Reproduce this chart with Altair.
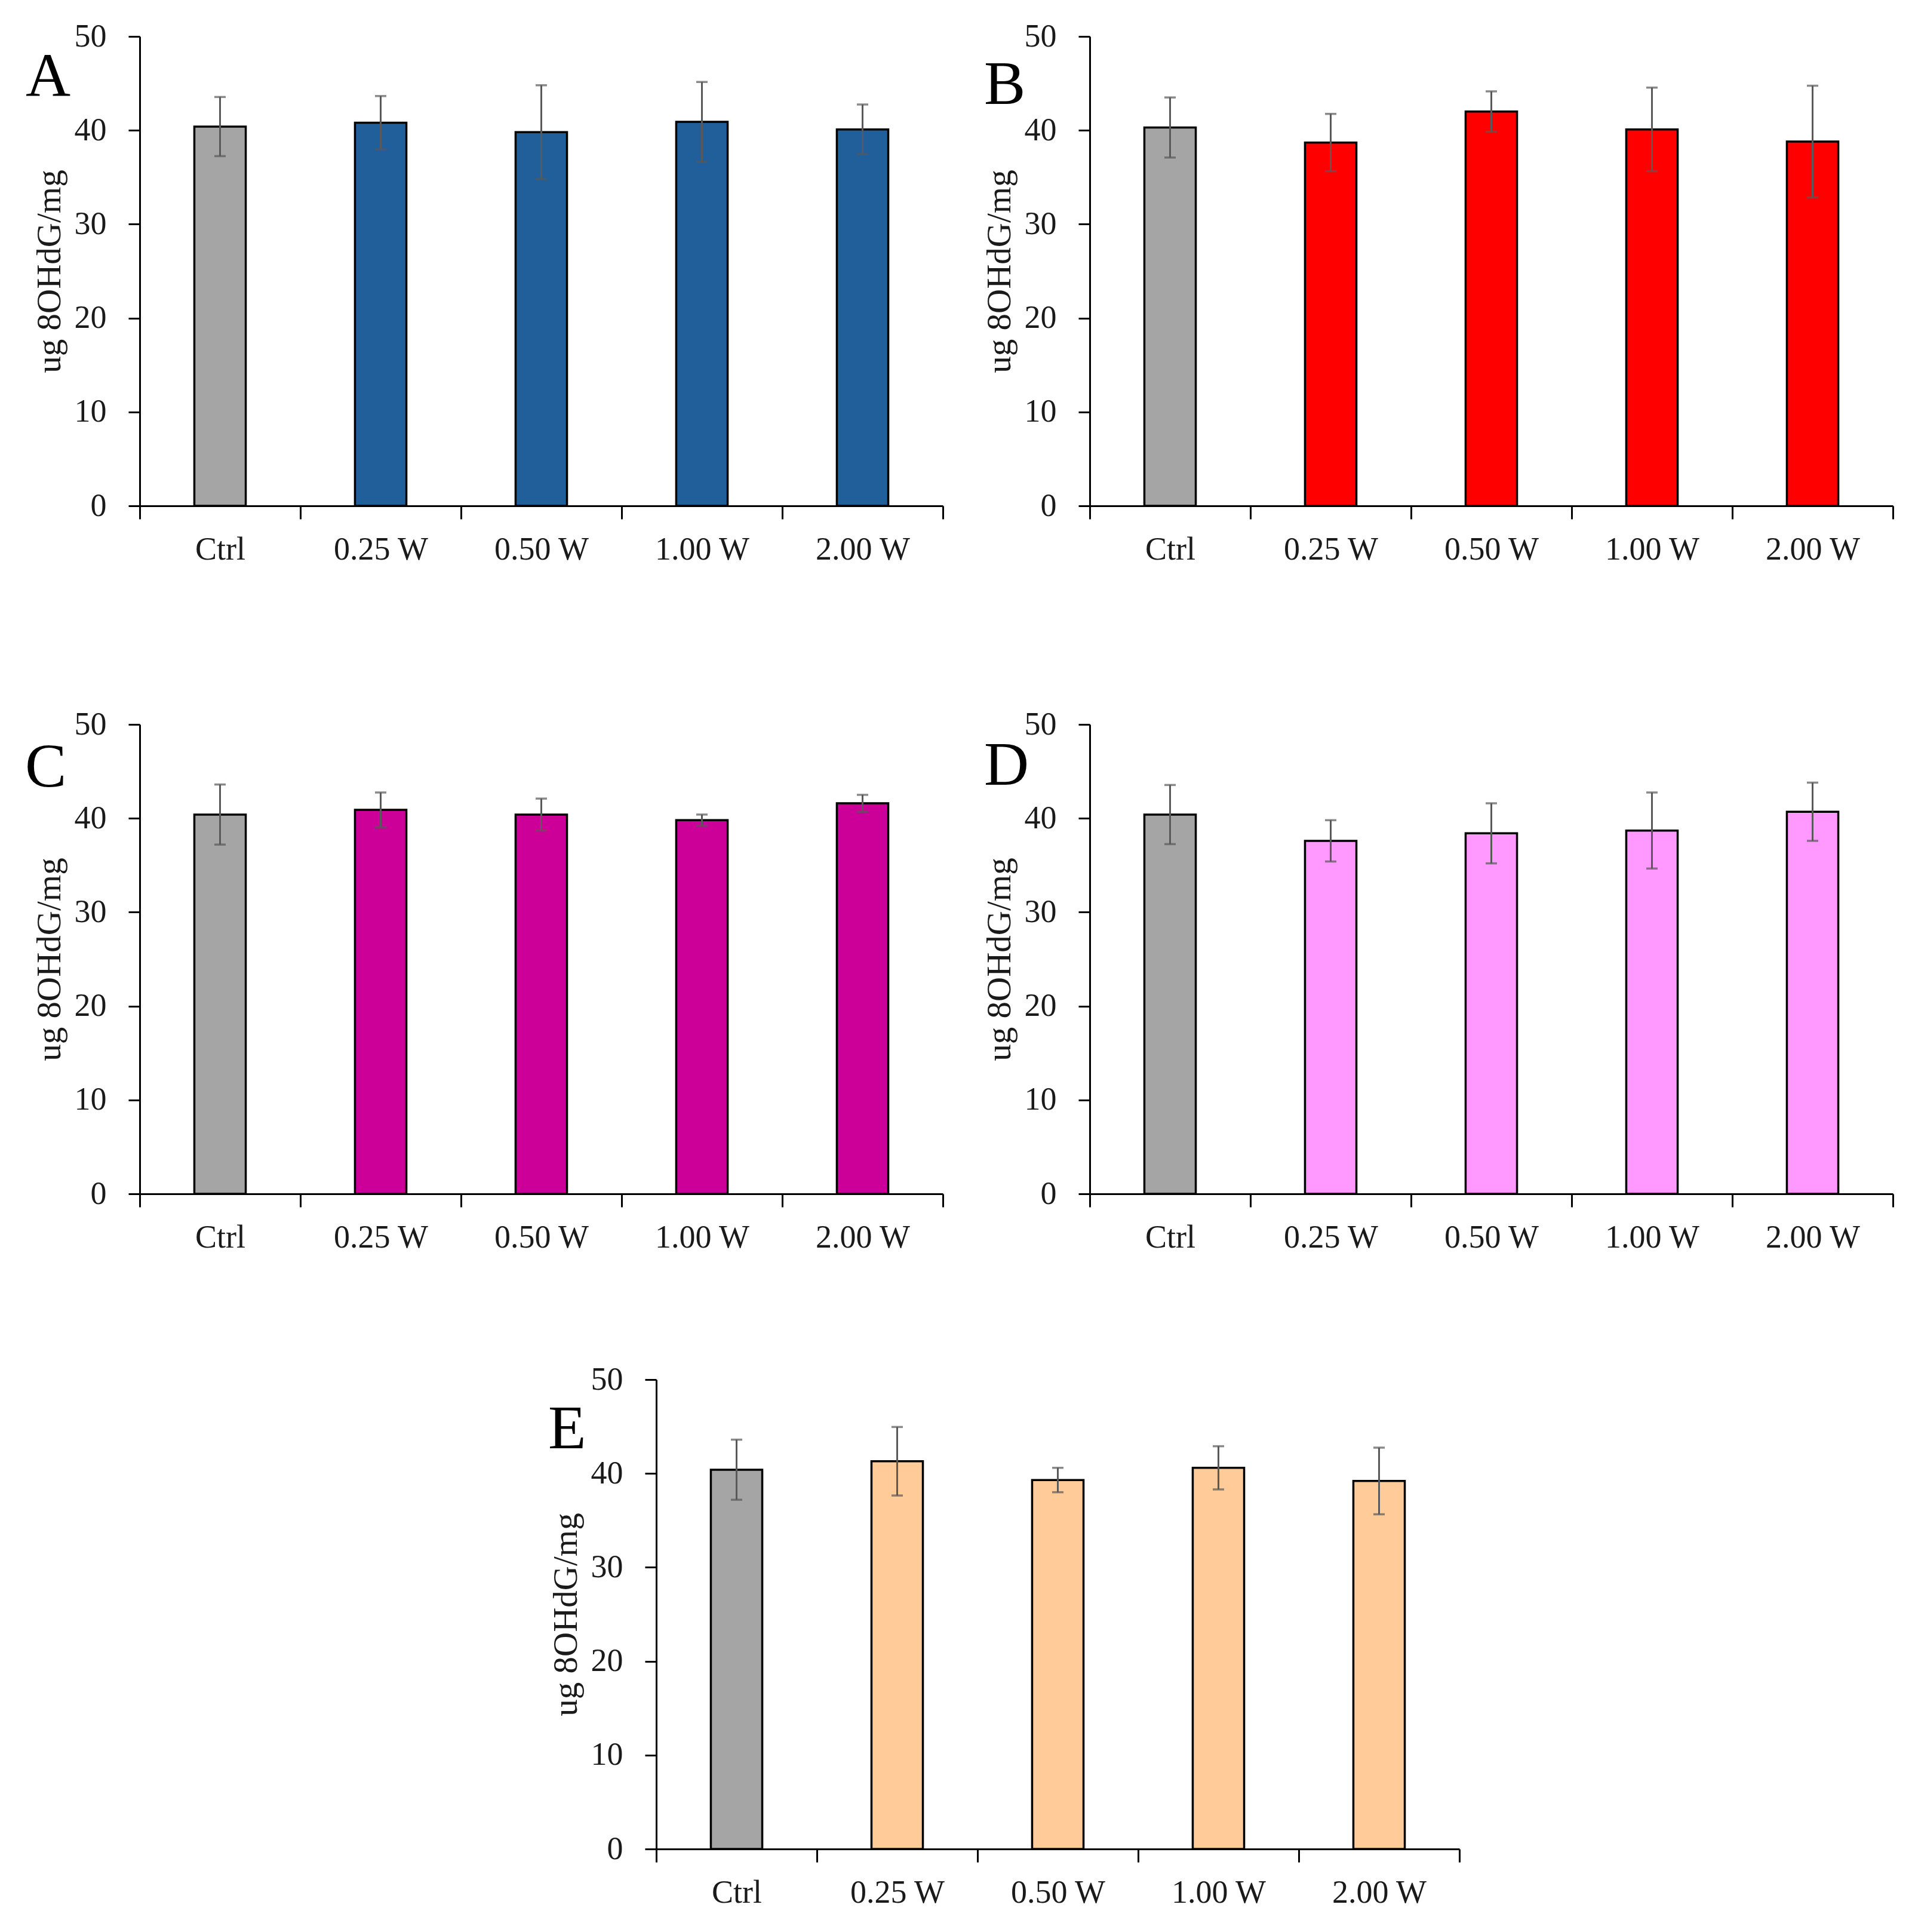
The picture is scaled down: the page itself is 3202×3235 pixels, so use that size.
#!/usr/bin/env python3
"""8OHdG levels per exposure power, five panels A-E
"""
import altair as alt
import pandas as pd

CATEGORIES = ['Ctrl', '0.25 W', '0.50 W', '1.00 W', '2.00 W']
GROUPS = ['ctrl', 'treat', 'treat', 'treat', 'treat']
LETTERS = ['A', 'B', 'C', 'D', 'E']

MEANS_A = [40.4, 40.8, 39.8, 40.9, 40.1]
ERRS_A = [3.15, 2.85, 5.0, 4.25, 2.65]
MEANS_B = [40.3, 38.7, 42.0, 40.1, 38.8]
ERRS_B = [3.2, 3.05, 2.15, 4.45, 5.95]
MEANS_C = [40.4, 40.9, 40.4, 39.8, 41.6]
ERRS_C = [3.2, 1.85, 1.7, 0.6, 0.9]
MEANS_D = [40.4, 37.6, 38.4, 38.7, 40.7]
ERRS_D = [3.15, 2.2, 3.2, 4.05, 3.1]
MEANS_E = [40.4, 41.3, 39.3, 40.6, 39.2]
ERRS_E = [3.2, 3.65, 1.3, 2.3, 3.55]

GRAY = '#A5A5A5'
PANEL_COLORS = ['#215F9A', '#FF0000', '#CC0099', '#FF99FF', '#FFCC99']
ERR_COLOR = '#595959'
FONT = 'Liberation Serif'
Y_TITLE = 'ug 8OHdG/mg'

W, H = 1345, 786
# panel letter offsets from the plot's top-left corner
LETTER_POS = [(-191, 100), (-177, 113), (-192, 104), (-177, 101), (-181, 115)]


def panel(i, means, errs):
    df = pd.DataFrame({'cat': CATEGORIES, 'mean': means, 'err': errs, 'grp': GROUPS})
    df['low'] = df['mean'] - df['err']
    df['high'] = df['mean'] + df['err']

    x = alt.X('cat:N', sort=CATEGORIES, title=None,
              scale=alt.Scale(paddingInner=0, paddingOuter=0),
              axis=alt.Axis(labelAngle=0, tickBand='extent', tickSize=22,
                            labelPadding=24))
    yscale = alt.Scale(domain=[0, 50], nice=False)
    base = alt.Chart(df).encode(x=x)

    bars = base.mark_bar(
        width=alt.RelativeBandSize(0.32), stroke='black', strokeWidth=3.5
    ).encode(
        y=alt.Y('mean:Q', scale=yscale, title=Y_TITLE,
                axis=alt.Axis(values=[0, 10, 20, 30, 40, 50], tickSize=19,
                              labelPadding=37, titlePadding=12)),
        color=alt.Color('grp:N', legend=None,
                        scale=alt.Scale(domain=['ctrl', 'treat'],
                                        range=[GRAY, PANEL_COLORS[i]])),
    )
    whisker = base.mark_rule(color=ERR_COLOR, strokeWidth=3).encode(
        y=alt.Y('low:Q', scale=yscale, title=Y_TITLE), y2='high:Q'
    )
    cap_low = base.mark_tick(color=ERR_COLOR, thickness=3.5, size=19).encode(
        y=alt.Y('low:Q', scale=yscale, title=Y_TITLE)
    )
    cap_high = base.mark_tick(color=ERR_COLOR, thickness=3.5, size=19).encode(
        y=alt.Y('high:Q', scale=yscale, title=Y_TITLE)
    )
    dx, dy = LETTER_POS[i]
    letter = alt.Chart(pd.DataFrame({'t': [LETTERS[i]]})).mark_text(
        align='left', baseline='alphabetic', font=FONT, fontSize=104, color='black'
    ).encode(x=alt.value(dx), y=alt.value(dy), text='t:N')

    return alt.layer(bars, whisker, cap_low, cap_high, letter).properties(
        width=W, height=H
    )


a = panel(0, MEANS_A, ERRS_A)
b = panel(1, MEANS_B, ERRS_B)
c = panel(2, MEANS_C, ERRS_C)
d = panel(3, MEANS_D, ERRS_D)
e = panel(4, MEANS_E, ERRS_E)

grid = alt.concat(a, b, c, d, columns=2, bounds='flush',
                  spacing={'row': 366, 'column': 246}
                  ).resolve_scale(color='independent')

spacer = alt.Chart(pd.DataFrame({'v': [0]})).mark_point(
    opacity=0, size=0
).properties(width=865, height=H)
bottom = alt.hconcat(spacer, e, spacing=0, bounds='flush'
                     ).resolve_scale(color='independent')

chart = alt.vconcat(grid, bottom, spacing=184).resolve_scale(
    color='independent'
).properties(
    padding={'left': 34, 'top': 26, 'right': 20, 'bottom': 20}
).configure_view(
    stroke=None
).configure_axis(
    grid=False,
    labelFont=FONT, titleFont=FONT,
    labelFontSize=54, titleFontSize=57, titleFontWeight='normal',
    labelColor='#1a1a1a', titleColor='#1a1a1a',
    domainColor='black', tickColor='black',
    domainWidth=3, tickWidth=3,
)

chart.save('out.html', embed_options={'renderer': 'svg', 'actions': False})
